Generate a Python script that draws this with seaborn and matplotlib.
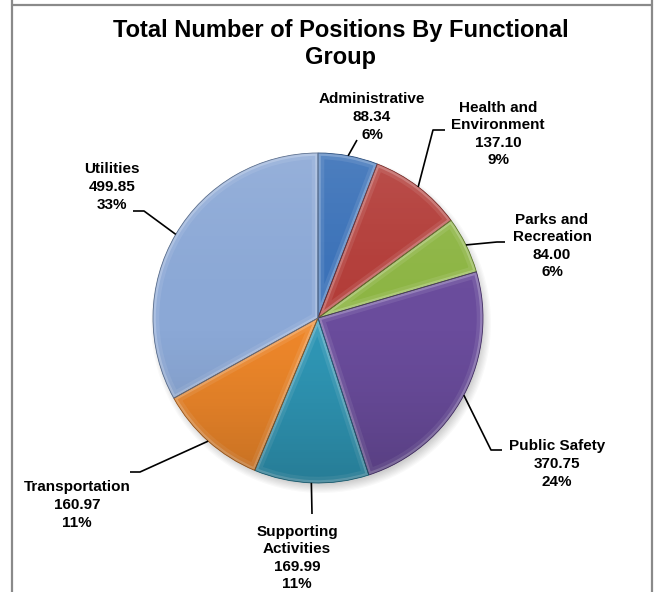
import numpy as np
import matplotlib
matplotlib.use("Agg")
import matplotlib.pyplot as plt
import matplotlib.patches as mpatches
from matplotlib.colors import to_rgb
import seaborn as sns

# Data
groups = ["Administrative", "Health and\nEnvironment", "Parks and\nRecreation",
          "Public Safety", "Supporting\nActivities", "Transportation", "Utilities"]
positions = [88.34, 137.10, 84.00, 370.75, 169.99, 160.97, 499.85]
percent_labels = ["6%", "9%", "6%", "24%", "11%", "11%", "33%"]
slice_colors = ["#3A71B8", "#B33D39", "#8DB544", "#6A4C9C", "#2F97B6", "#EE872A", "#8BA8D6"]
title = "Total Number of Positions By Functional\nGroup"

# Layout in pixel units (origin top-left)
W, H = 663, 592
pie_cx, pie_cy, pie_r = 318, 318, 165
label_xy = [(372, 117), (498, 134), (552, 246), (557, 464), (297, 558), (77, 505), (112, 187)]
leader_bends = [
    [(357, 140)],
    [(433, 130), (445, 130)],
    [(497, 242), (505, 242)],
    [(491, 450), (502, 450)],
    [(312, 514)],
    [(140, 472), (130, 472)],
    [(144, 211), (133, 211)],
]

sns.set_theme(style="white")
plt.rcParams["font.family"] = ["Liberation Sans", "DejaVu Sans"]
palette = sns.color_palette(slice_colors)


def P(x, y):
    return (x, H - y)


def mix(c, other, t):
    c = np.array(to_rgb(c))
    o = np.array(to_rgb(other))
    return tuple(c * (1 - t) + o * t)


fig = plt.figure(figsize=(W / 100, H / 100), dpi=100)
ax = fig.add_axes([0, 0, 1, 1])

center = P(pie_cx, pie_cy)

# soft drop shadow
for i in range(8):
    ax.add_patch(mpatches.Circle((center[0] + 3, center[1] - 5), pie_r + 5 - i * 1.2,
                                 facecolor="black", edgecolor="none", alpha=0.025, zorder=1))

wedges, _ = ax.pie(positions, colors=palette, startangle=90, counterclock=False,
                   center=center, radius=pie_r,
                   wedgeprops=dict(edgecolor="none", linewidth=0, zorder=2))

# bevel highlight along each slice border
for w, col in zip(wedges, palette):
    w.set_zorder(2)
    for lw, t, a in [(9, 0.25, 0.35), (4, 0.45, 0.55)]:
        hl = mpatches.Wedge(w.center, w.r, w.theta1, w.theta2, facecolor="none",
                            edgecolor=mix(col, "white", t), linewidth=lw, alpha=a, zorder=3)
        ax.add_patch(hl)
        hl.set_clip_path(w)
    ax.add_patch(mpatches.Wedge(w.center, w.r, w.theta1, w.theta2, facecolor="none",
                                edgecolor=mix(col, "black", 0.35), linewidth=0.6, zorder=4))

# vertical light-to-dark shading over the disc
n = 200
yy = np.linspace(1, -1, n)[:, None] * np.ones((1, n))
shade = np.zeros((n, n, 4))
top = np.clip(yy, 0, 1)
bot = np.clip(-yy, 0, 1)
shade[..., :3] = np.where(yy[..., None] > 0, 1.0, 0.0)
shade[..., 3] = 0.10 * top ** 1.5 + 0.18 * bot ** 1.5
im = ax.imshow(shade, extent=(center[0] - pie_r, center[0] + pie_r,
                              center[1] - pie_r, center[1] + pie_r),
               zorder=5, interpolation="bilinear")
disc = mpatches.Circle(center, pie_r, transform=ax.transData)
im.set_clip_path(disc)

# labels and leader lines
cum = np.cumsum([0] + positions[:-1])
total = sum(positions)
for i, (name, val, pct) in enumerate(zip(groups, positions, percent_labels)):
    mid = (cum[i] + val / 2) / total * 360.0
    ang = np.deg2rad(90 - mid)
    ex = center[0] + pie_r * np.cos(ang)
    ey = center[1] + pie_r * np.sin(ang)
    pts = [(ex, ey)] + [P(*p) for p in leader_bends[i]]
    xs, ys = zip(*pts)
    ax.plot(xs, ys, color="black", linewidth=1.2, zorder=6, solid_capstyle="butt")
    lx, ly = P(*label_xy[i])
    ax.text(lx, ly, f"{name}\n{val:.2f}\n{pct}", ha="center", va="center",
            fontsize=11, fontweight="bold", linespacing=1.32, color="black", zorder=7)

ax.text(*P(341, 44), title, ha="center", va="center", fontsize=17,
        fontweight="bold", linespacing=1.25, color="black")

# outer frame
frame_col = "#8a8a8a"
ax.plot(*zip(P(12, 0), P(12, H)), color=frame_col, linewidth=1.6)
ax.plot(*zip(P(652, 0), P(652, H)), color=frame_col, linewidth=1.6)
ax.plot(*zip(P(12, 5), P(652, 5)), color=frame_col, linewidth=1.6)

ax.set_xlim(0, W)
ax.set_ylim(0, H)
ax.set_aspect("auto")
ax.axis("off")

fig.savefig("out.png", dpi=100, facecolor="white")
